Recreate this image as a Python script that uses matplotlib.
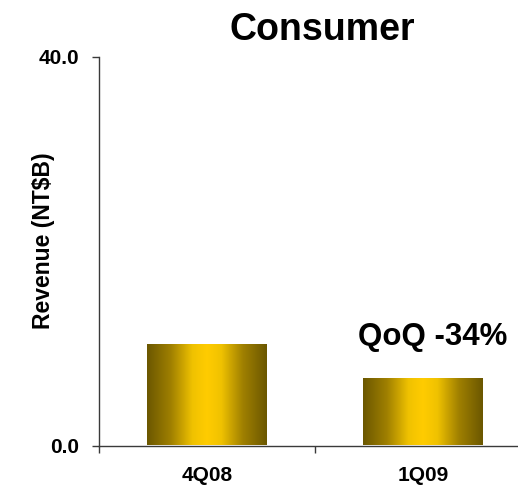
import numpy as np
import matplotlib
matplotlib.use("Agg")
import matplotlib.pyplot as plt
from matplotlib.colors import LinearSegmentedColormap

# Quarterly consumer revenue (NT$ billions)
quarters = ["4Q08", "1Q09"]
revenue = [10.5, 6.95]
y_ticks = [0.0, 40.0]
y_tick_labels = ["0.0", "40.0"]
change_label = "QoQ -34%"

plt.rcParams["font.family"] = ["Liberation Sans", "DejaVu Sans"]
plt.rcParams["font.weight"] = "bold"

W, H = 518, 486
fig = plt.figure(figsize=(W / 100, H / 100), dpi=100)
fig.patch.set_facecolor("white")

ax_left, ax_right = 99, 518
ax_top, ax_bottom = 57, 445.5
ax = fig.add_axes([ax_left / W, 1 - ax_bottom / H,
                   (ax_right - ax_left) / W, (ax_bottom - ax_top) / H])

cat_px = 216.0
xlim = (-0.5, -0.5 + (ax_right - ax_left) / cat_px)
x = np.arange(len(quarters))
bars = ax.bar(x, revenue, width=120 / cat_px, facecolor="none",
              edgecolor="none", zorder=2)

# Metallic gold shading: dark edges, bright centre
gold = LinearSegmentedColormap.from_list(
    "gold",
    [(0.0, "#6b5700"), (0.20, "#a08000"), (0.38, "#f0c200"),
     (0.50, "#ffcc00"), (0.62, "#f0c200"), (0.80, "#a08000"),
     (1.0, "#6b5700")])
grad = np.linspace(0, 1, 256).reshape(1, -1)
for b in bars:
    bx, bw, bh = b.get_x(), b.get_width(), b.get_height()
    im = ax.imshow(grad, cmap=gold, aspect="auto",
                   extent=[bx, bx + bw, 0, bh], zorder=2,
                   interpolation="bilinear")
    im.set_clip_path(b)

# Spines
for s in ["top", "right"]:
    ax.spines[s].set_visible(False)
for s in ["left", "bottom"]:
    ax.spines[s].set_color("#3a3a3a")
    ax.spines[s].set_linewidth(1.0)

# Y axis ticks
ax.set_yticks(y_ticks)
ax.set_yticklabels(y_tick_labels, fontsize=15, fontweight="bold")
ax.tick_params(axis="y", direction="out", length=5, width=1.0,
               color="#3a3a3a", pad=9)

# X axis: boundary ticks, labels at category centres
ax.set_xticks(np.arange(len(quarters) + 1) - 0.5)
ax.set_xticklabels([])
ax.set_xticks(x, minor=True)
ax.set_xticklabels(quarters, minor=True, fontsize=15, fontweight="bold")
ax.tick_params(axis="x", which="major", direction="out", length=5,
               width=1.0, color="#3a3a3a")
ax.tick_params(axis="x", which="minor", length=0, pad=15)

ax.set_xlim(*xlim)
ax.set_ylim(0, 40)

# Title, axis label and change annotation
fig.text(322 / W, 1 - 40 / H, "Consumer", fontsize=27, fontweight="bold",
         ha="center", va="baseline")
fig.text(44 / W, 1 - 241 / H, "Revenue (NT$B)", fontsize=16.5,
         fontweight="bold", rotation=90, ha="center", va="center")
ax.text(-0.5 + (433 - ax_left) / cat_px, 40 * (ax_bottom - 345) / (ax_bottom - ax_top),
        change_label, fontsize=22.5, fontweight="bold", ha="center",
        va="baseline")

fig.savefig("out.png", dpi=100)
